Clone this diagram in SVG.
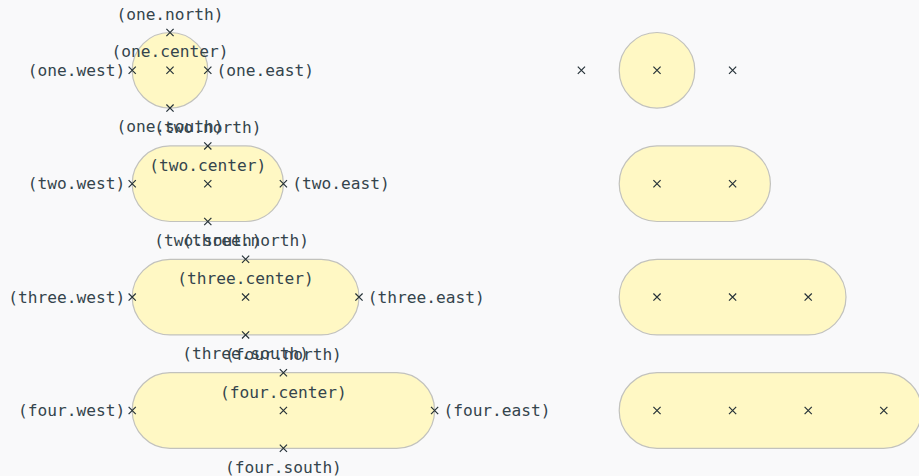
<svg xmlns="http://www.w3.org/2000/svg" width="919" height="476" viewBox="0 0 919 476">
<style>
.bg{fill:#f9f9fa}
.shape{fill:#fff8c4;stroke:#c2c2bd;stroke-width:1.2}
.lbl{font-family:"DejaVu Sans Mono","Liberation Mono",monospace;font-size:16.2px;fill:#34444c}
.m{text-anchor:middle}.e{text-anchor:end}.s{text-anchor:start}
.x{stroke:#263238;stroke-width:1.2;fill:none}
</style>
<defs>
<path id="cross" class="x" d="M-3.6,-3.6L3.6,3.6M-3.6,3.6L3.6,-3.6"/>
</defs>
<rect class="bg" x="0" y="0" width="919" height="476"/>
<g id="connectors"/>
<g id="one">
<circle class="shape" cx="170" cy="70.3" r="37.8"/>
<use href="#cross" x="170" y="32.5"/><use href="#cross" x="170" y="70.3"/><use href="#cross" x="132.2" y="70.3"/><use href="#cross" x="207.8" y="70.3"/><use href="#cross" x="170" y="108.1"/>
<text class="lbl m" x="170" y="19.5">(one.north)</text>
<text class="lbl m" x="170" y="57.3">(one.center)</text>
<text class="lbl e" x="125.2" y="75.8">(one.west)</text>
<text class="lbl s" x="216.6" y="75.8">(one.east)</text>
<text class="lbl m" x="170" y="132.3">(one.south)</text>
</g>
<g id="two">
<rect class="shape" x="132.2" y="145.9" width="151.2" height="75.6" rx="37.8"/>
<use href="#cross" x="207.8" y="145.9"/><use href="#cross" x="207.8" y="183.7"/><use href="#cross" x="132.2" y="183.7"/><use href="#cross" x="283.4" y="183.7"/><use href="#cross" x="207.8" y="221.5"/>
<text class="lbl m" x="207.8" y="132.9">(two.north)</text>
<text class="lbl m" x="207.8" y="170.7">(two.center)</text>
<text class="lbl e" x="125.2" y="189.2">(two.west)</text>
<text class="lbl s" x="292.2" y="189.2">(two.east)</text>
<text class="lbl m" x="207.8" y="245.7">(two.south)</text>
</g>
<g id="three">
<rect class="shape" x="132.2" y="259.3" width="226.8" height="75.6" rx="37.8"/>
<use href="#cross" x="245.6" y="259.3"/><use href="#cross" x="245.6" y="297.1"/><use href="#cross" x="132.2" y="297.1"/><use href="#cross" x="359" y="297.1"/><use href="#cross" x="245.6" y="334.9"/>
<text class="lbl m" x="245.6" y="246.3">(three.north)</text>
<text class="lbl m" x="245.6" y="284.1">(three.center)</text>
<text class="lbl e" x="125.2" y="302.6">(three.west)</text>
<text class="lbl s" x="367.8" y="302.6">(three.east)</text>
<text class="lbl m" x="245.6" y="359.1">(three.south)</text>
</g>
<g id="four">
<rect class="shape" x="132.2" y="372.7" width="302.4" height="75.6" rx="37.8"/>
<use href="#cross" x="283.4" y="372.7"/><use href="#cross" x="283.4" y="410.5"/><use href="#cross" x="132.2" y="410.5"/><use href="#cross" x="434.6" y="410.5"/><use href="#cross" x="283.4" y="448.3"/>
<text class="lbl m" x="283.4" y="359.7">(four.north)</text>
<text class="lbl m" x="283.4" y="397.5">(four.center)</text>
<text class="lbl e" x="125.2" y="416">(four.west)</text>
<text class="lbl s" x="443.4" y="416">(four.east)</text>
<text class="lbl m" x="283.4" y="472.5">(four.south)</text>
</g>
<g id="one-b">
<circle class="shape" cx="657" cy="70.3" r="37.8"/>
<use href="#cross" x="581.4" y="70.3"/><use href="#cross" x="657" y="70.3"/><use href="#cross" x="732.6" y="70.3"/>
</g>
<g id="two-b">
<rect class="shape" x="619.2" y="145.9" width="151.2" height="75.6" rx="37.8"/>
<use href="#cross" x="657" y="183.7"/><use href="#cross" x="732.6" y="183.7"/>
</g>
<g id="three-b">
<rect class="shape" x="619.2" y="259.3" width="226.8" height="75.6" rx="37.8"/>
<use href="#cross" x="657" y="297.1"/><use href="#cross" x="732.6" y="297.1"/><use href="#cross" x="808.2" y="297.1"/>
</g>
<g id="four-b">
<rect class="shape" x="619.2" y="372.7" width="302.4" height="75.6" rx="37.8"/>
<use href="#cross" x="657" y="410.5"/><use href="#cross" x="732.6" y="410.5"/><use href="#cross" x="808.2" y="410.5"/><use href="#cross" x="883.8" y="410.5"/>
</g>
</svg>
